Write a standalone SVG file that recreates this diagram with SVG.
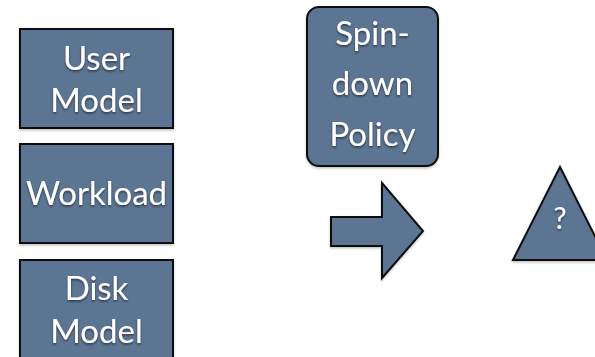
<svg xmlns="http://www.w3.org/2000/svg" width="595" height="357" viewBox="0 0 595 357">
  <defs>
    <filter id="txtShadow" x="-10%" y="-10%" width="130%" height="140%">
      <feDropShadow dx="0" dy="1.5" stdDeviation="1" flood-color="#000" flood-opacity="0.55"/>
    </filter>
    <filter id="boxShadow" x="-5%" y="-5%" width="110%" height="115%">
      <feDropShadow dx="0" dy="1.5" stdDeviation="0.8" flood-color="#000" flood-opacity="0.25"/>
    </filter>
  </defs>
  <style>
    .shape { fill: #5b7593; stroke: #111; stroke-width: 2; filter: url(#boxShadow); }
    .label { font-family: "Lato", "Open Sans", "DejaVu Sans", sans-serif; font-size: 33px; fill: #fff; text-anchor: middle; filter: url(#txtShadow); }
    .q { font-size: 30px; }
  </style>
  <rect width="595" height="357" fill="#fff"/>

  <g id="user-model">
    <rect class="shape" x="20" y="29" width="153" height="99"/>
    <text class="label" x="96.5" y="70">User</text>
    <text class="label" x="96.5" y="112">Model</text>
  </g>

  <g id="workload">
    <rect class="shape" x="20" y="144" width="153" height="99"/>
    <text class="label" x="96.5" y="205">Workload</text>
  </g>

  <g id="disk-model">
    <rect class="shape" x="20" y="260" width="153" height="99"/>
    <text class="label" x="96.5" y="300">Disk</text>
    <text class="label" x="96.5" y="343">Model</text>
  </g>

  <g id="spin-down-policy">
    <rect class="shape" x="307" y="7" width="131" height="159" rx="12" ry="12"/>
    <text class="label" x="372.5" y="45">Spin-</text>
    <text class="label" x="372.5" y="95">down</text>
    <text class="label" x="372.5" y="146">Policy</text>
  </g>

  <g id="connectors">
    <polygon class="shape" points="331,217 382,217 382,183 423,231 382,278 382,246 331,246"/>
  </g>

  <g id="result">
    <polygon class="shape" points="560,167 607,260 513,260"/>
    <text class="label q" x="560" y="229">?</text>
  </g>
</svg>
